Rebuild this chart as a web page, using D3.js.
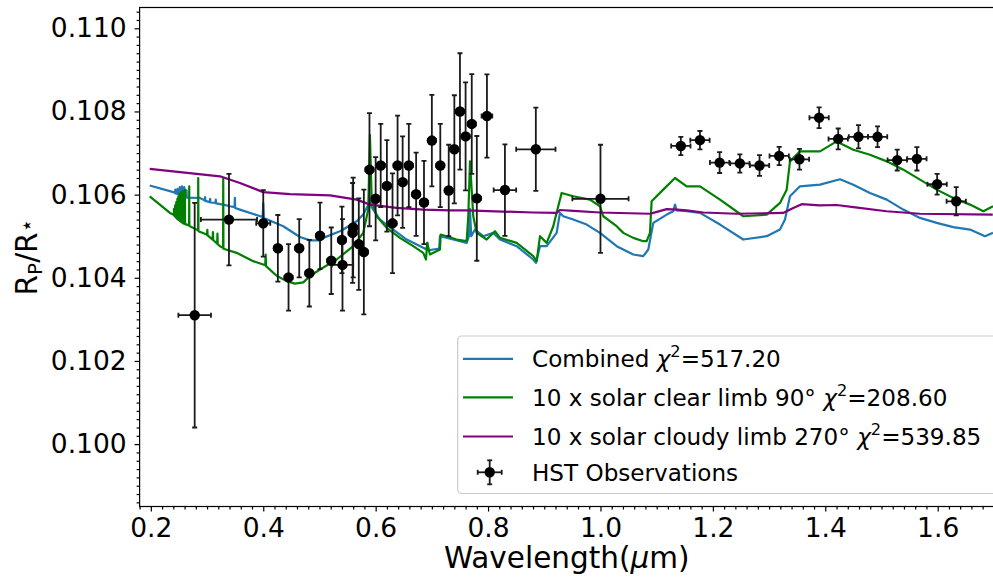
<!DOCTYPE html>
<html>
<head>
<meta charset="utf-8">
<script src="https://cdn.jsdelivr.net/npm/d3@7"></script>
<style>
  body { margin: 0; background: #fff; }
  text { font-family: "DejaVu Sans", sans-serif; fill: #000; }
</style>
</head>
<body>
<svg id="chart" width="993" height="581"></svg>
<script>
// HST transmission spectrum: observed points
const obsWave = [0.278,0.339,0.400,0.426,0.445,0.464,0.482,0.501,0.521,0.540,0.541,0.560,0.559,0.570,0.579,
  0.589,0.600,0.609,0.620,0.630,0.639,0.648,0.659,0.672,0.686,0.700,0.715,0.730,0.740,0.750,0.760,0.771,0.780,
  0.798,0.830,0.885,1.000,
  1.143,1.177,1.212,1.248,1.283,1.318,1.354,1.389,1.423,1.459,1.493,1.528,1.563,1.599,1.633];
const obsRad = [0.10310,0.10540,0.10531,0.10471,0.10401,0.10471,0.10411,0.10501,0.10441,0.10491,0.10431,0.10521,0.10508,0.10481,0.10462,
  0.10660,0.10590,0.10670,0.10621,0.10531,0.10670,0.10630,0.10670,0.10601,0.10581,0.10730,0.10670,0.10610,0.10709,0.10800,0.10740,0.10770,0.10591,
  0.10789,0.10611,0.10709,0.10590,
  0.10717,0.10731,0.10677,0.10675,0.10670,0.10693,0.10685,0.10785,0.10734,0.10739,0.10739,0.10683,0.10686,0.10625,0.10584];
const obsRadErr = [0.0027,0.0011,0.0008,0.0008,0.0008,0.0007,0.0008,0.0008,0.0008,0.0008,0.0011,0.0012,0.0012,0.0011,0.0015,
  0.00136,0.001,0.001,0.0011,0.0012,0.0012,0.0011,0.001,0.001,0.001,0.0011,0.001,0.0011,0.0013,0.0014,0.0013,0.0012,0.0015,
  0.001,0.0011,0.001,0.0013,
  0.00022,0.00022,0.00025,0.00022,0.00025,0.00022,0.00025,0.00025,0.00025,0.00028,0.00025,0.00025,0.00028,0.00025,0.00034];
const obsWaveErr = [0.029,0.05,0.0125,0.007,0.007,0.007,0.007,0.007,0.007,0.007,0.019,0.007,0.007,0.007,0.007,
  0.007,0.007,0.007,0.007,0.007,0.007,0.007,0.007,0.007,0.007,0.007,0.007,0.007,0.007,0.007,0.007,0.007,0.007,
  0.0095,0.02,0.035,0.05,
  0.0172,0.0172,0.0172,0.0172,0.0172,0.0172,0.0172,0.0172,0.0172,0.0172,0.0172,0.0172,0.0172,0.0172,0.0172];

// model spectra [wavelength, Rp/R*]
const combinedModel = [[0.198,0.10622],[0.240,0.10606],
  [0.243,0.10604],[0.2435,0.10612],[0.244,0.10603],[0.247,0.10602],[0.2475,0.10614],[0.248,0.10601],
  [0.251,0.10600],[0.2515,0.10618],[0.252,0.10599],[0.255,0.10598],[0.2555,0.10620],[0.256,0.10597],
  [0.259,0.10596],[0.2595,0.10618],[0.260,0.10595],[0.263,0.10594],[0.2635,0.10610],[0.264,0.10593],
  [0.2874,0.10592],[0.2932,0.10588],[0.296,0.10586],[0.2965,0.10594],[0.297,0.10585],[0.305,0.10582],[0.3055,0.10590],
  [0.306,0.10581],[0.315,0.10580],[0.3155,0.10588],[0.316,0.10579],[0.3288,0.10576],[0.3407,0.10572],[0.349,0.10570],
  [0.3496,0.10592],[0.350,0.10568],[0.3585,0.10564],[0.399,0.10546],[0.400,0.10580],[0.401,0.10544],[0.4356,0.10524],
  [0.4653,0.10498],[0.4831,0.10490],[0.5009,0.10490],[0.5068,0.10496],[0.5365,0.10512],[0.5423,0.10516],[0.5662,0.10536],
  [0.5779,0.10552],[0.5868,0.10575],[0.5898,0.10586],[0.5929,0.10570],[0.6077,0.10540],[0.6313,0.10516],[0.6552,0.10492],
  [0.6847,0.10472],[0.6906,0.10468],[0.6918,0.10484],[0.693,0.10466],[0.7025,0.10468],[0.713,0.10470],[0.7144,0.10500],
  [0.7381,0.10492],[0.7619,0.10484],[0.766,0.10500],[0.7678,0.10566],[0.770,0.10500],[0.7767,0.10516],[0.7914,0.10500],
  [0.8093,0.10508],[0.8212,0.10492],[0.8509,0.10476],[0.8804,0.10444],[0.8852,0.10436],[0.8924,0.10476],[0.9043,0.10476],
  [0.922,0.10508],[0.9279,0.10556],[0.9338,0.10548],[0.9516,0.10540],[0.9754,0.10528],[0.9991,0.10508],[1.0288,0.10476],
  [1.0584,0.10456],[1.0762,0.10452],[1.0851,0.10468],[1.094,0.10532],[1.1178,0.10552],[1.1295,0.10560],[1.1326,0.10576],
  [1.1356,0.10562],[1.1534,0.10560],[1.1771,0.10556],[1.2127,0.10528],[1.2541,0.10492],[1.2957,0.10500],[1.3194,0.10516],
  [1.3283,0.10540],[1.3372,0.10596],[1.355,0.10620],[1.3906,0.10624],[1.4262,0.10637],[1.4498,0.10624],[1.4795,0.10604],
  [1.5093,0.10588],[1.5388,0.10564],[1.5685,0.10544],[1.5982,0.10532],[1.6278,0.10522],[1.6575,0.10516],[1.6842,0.10500],
  [1.6984,0.10508]];

const clearModel = [[0.198,0.10596],[0.234,0.10556],[0.2399,0.10552],
  [0.241,0.10551],[0.2412,0.10566],[0.2414,0.10550],[0.243,0.10548],[0.2432,0.10574],[0.2434,0.10547],
  [0.245,0.10545],[0.2452,0.10582],[0.2454,0.10544],[0.247,0.10542],[0.2472,0.10590],[0.2474,0.10541],
  [0.249,0.10540],[0.2492,0.10596],[0.2494,0.10539],[0.251,0.10538],[0.2512,0.10600],[0.2514,0.10537],
  [0.253,0.10536],[0.2532,0.10604],[0.2534,0.10535],[0.255,0.10534],[0.2552,0.10606],[0.2554,0.10533],
  [0.2568,0.10532],[0.257,0.10608],[0.2572,0.10531],[0.2605,0.10530],[0.2607,0.10612],[0.2609,0.10529],
  [0.2681,0.10526],[0.2683,0.10620],[0.2685,0.10525],[0.2696,0.10524],[0.2841,0.10514],[0.2843,0.10640],[0.2847,0.10512],
  [0.2993,0.10504],[0.300,0.10503],[0.3005,0.10515],[0.301,0.10502],[0.310,0.10492],[0.3105,0.10510],[0.311,0.10491],
  [0.318,0.10482],[0.3185,0.10506],[0.319,0.10481],[0.323,0.10476],[0.3286,0.10472],[0.3288,0.10640],[0.3292,0.10470],
  [0.3527,0.10460],[0.3822,0.10440],[0.400,0.10432],[0.4035,0.10430],[0.4043,0.10456],[0.405,0.10428],[0.4238,0.10405],
  [0.4416,0.10392],[0.4564,0.10386],[0.4712,0.10389],[0.4831,0.10404],[0.5009,0.10420],[0.5306,0.10444],[0.5601,0.10476],
  [0.5779,0.10508],[0.5868,0.10564],[0.5898,0.10744],[0.5929,0.10588],[0.6018,0.10548],[0.6196,0.10520],[0.6432,0.10496],
  [0.6669,0.10476],[0.6847,0.10460],[0.6895,0.10444],[0.6918,0.10484],[0.6966,0.10456],[0.7144,0.10468],[0.7157,0.10504],
  [0.7263,0.10500],[0.7441,0.10492],[0.7619,0.10488],[0.7648,0.10548],[0.7678,0.10680],[0.7737,0.10548],[0.7797,0.10508],
  [0.7975,0.10492],[0.8123,0.10512],[0.8212,0.10496],[0.8509,0.10484],[0.8804,0.10452],[0.8865,0.10440],[0.8924,0.10500],
  [0.9043,0.10484],[0.916,0.10524],[0.9249,0.10572],[0.9309,0.10604],[0.9516,0.10596],[0.9813,0.10588],[0.9991,0.10572],
  [1.005,0.10548],[1.0288,0.10524],[1.0406,0.10508],[1.0584,0.10496],[1.0762,0.10488],[1.0822,0.10488],[1.0881,0.10508],
  [1.091,0.10584],[1.1117,0.10612],[1.1326,0.10640],[1.1534,0.10620],[1.1771,0.10620],[1.2127,0.10588],[1.2541,0.10548],
  [1.2957,0.10552],[1.3194,0.10580],[1.3313,0.10612],[1.3372,0.10680],[1.355,0.10704],[1.3906,0.10704],[1.4203,0.10728],
  [1.4498,0.10708],[1.4795,0.10696],[1.5093,0.10680],[1.5388,0.10660],[1.5685,0.10636],[1.5982,0.10612],[1.6278,0.10592],
  [1.6575,0.10576],[1.6812,0.10560],[1.6984,0.10572]];

const cloudyModel = [[0.198,0.10662],[0.323,0.10644],[0.3585,0.10628],[0.400,0.10606],[0.4475,0.10601],[0.519,0.10598],
  [0.566,0.10588],[0.590,0.10576],[0.637,0.10568],[0.685,0.10564],[0.732,0.10562],[0.762,0.10562],[0.880,0.10557],
  [0.922,0.10556],[0.928,0.10563],[0.952,0.10561],[0.999,0.10557],[1.088,0.10554],[1.094,0.10556],[1.118,0.10565],
  [1.136,0.10564],[1.153,0.10562],[1.183,0.10557],[1.242,0.10554],[1.325,0.10556],[1.343,0.10568],[1.358,0.10577],
  [1.390,0.10574],[1.420,0.10575],[1.450,0.10570],[1.509,0.10560],[1.568,0.10554],[1.698,0.10552]];

const xMajor = [0.2,0.4,0.6,0.8,1.0,1.2,1.4,1.6];
const yMajor = [0.100,0.102,0.104,0.106,0.108,0.110];

const seriesInfo = [
  {name: "Combined", chi: "517.20", color: "#1f77b4", data: combinedModel},
  {name: "10 x solar clear limb 90\u00b0", chi: "208.60", color: "green", data: clearModel},
  {name: "10 x solar cloudy limb 270\u00b0", chi: "539.85", color: "purple", data: cloudyModel}
];

let svg = d3.select("#chart");
let plotL = 139.6, plotR = 993.9, plotT = 7.5, plotB = 506.5;

let x = d3.scaleLinear().domain([0.18, 1.7]).range([plotL, plotR]);
let y = d3.scaleLinear().domain([0.0985, 0.1105]).range([plotB, plotT]);

// minor tick positions
let xMinor = d3.range(0.18, 1.7001, 0.02).filter(v => !xMajor.some(m => Math.abs(m - v) < 1e-6));
let yMinor = d3.range(0.0986, 0.1105, 0.0002).filter(v => !yMajor.some(m => Math.abs(m - v) < 1e-7));

svg.append("defs").append("clipPath").attr("id", "clip")
  .append("rect").attr("x", plotL).attr("y", plotT)
  .attr("width", plotR - plotL).attr("height", plotB - plotT);

// axes
let gx = svg.append("g").attr("transform", `translate(0,${plotB})`)
  .call(d3.axisBottom(x).tickValues(xMajor).tickFormat(d3.format(".1f"))
    .tickSize(5).tickPadding(6.4).tickSizeOuter(0));
svg.append("g").attr("transform", `translate(0,${plotB})`)
  .call(d3.axisBottom(x).tickValues(xMinor).tickFormat("").tickSize(3).tickSizeOuter(0));

let gy = svg.append("g").attr("transform", `translate(${plotL},0)`)
  .call(d3.axisLeft(y).tickValues(yMajor).tickFormat(d3.format(".3f"))
    .tickSize(5).tickPadding(7.9).tickSizeOuter(0));
svg.append("g").attr("transform", `translate(${plotL},0)`)
  .call(d3.axisLeft(y).tickValues(yMinor).tickFormat("").tickSize(3).tickSizeOuter(0));

svg.selectAll(".tick line").attr("stroke", "#000").attr("stroke-width", 1.2);
svg.selectAll(".domain").remove();
gx.selectAll("text").attr("font-size", "26.5px").attr("font-family", "DejaVu Sans");
gy.selectAll("text").attr("font-size", "26.5px").attr("font-family", "DejaVu Sans");

// model lines
let line = d3.line().x(d => x(d[0])).y(d => y(d[1]));
let plot = svg.append("g").attr("clip-path", "url(#clip)");
seriesInfo.forEach(s => {
  plot.append("path").datum(s.data)
    .attr("d", line)
    .attr("fill", "none")
    .attr("stroke", s.color)
    .attr("stroke-width", 2.2)
    .attr("stroke-linejoin", "round");
});

// error bars
let obs = obsWave.map((w, i) => ({w: w, r: obsRad[i], er: obsRadErr[i], ew: obsWaveErr[i]}));
let eb = plot.append("g").attr("stroke", "#1a1a1a").attr("stroke-width", 1.8);
let cap = 2.5;
obs.forEach(d => {
  let cx = x(d.w), cy = y(d.r);
  let y0 = y(d.r - d.er), y1 = y(d.r + d.er);
  let x0 = x(d.w - d.ew), x1 = x(d.w + d.ew);
  eb.append("line").attr("x1", cx).attr("x2", cx).attr("y1", y0).attr("y2", y1);
  eb.append("line").attr("x1", x0).attr("x2", x1).attr("y1", cy).attr("y2", cy);
  eb.append("line").attr("x1", cx - cap).attr("x2", cx + cap).attr("y1", y0).attr("y2", y0);
  eb.append("line").attr("x1", cx - cap).attr("x2", cx + cap).attr("y1", y1).attr("y2", y1);
  eb.append("line").attr("x1", x0).attr("x2", x0).attr("y1", cy - cap).attr("y2", cy + cap);
  eb.append("line").attr("x1", x1).attr("x2", x1).attr("y1", cy - cap).attr("y2", cy + cap);
});
plot.selectAll("circle.obs").data(obs).enter().append("circle")
  .attr("class", "obs")
  .attr("cx", d => x(d.w)).attr("cy", d => y(d.r)).attr("r", 5.2)
  .attr("fill", "#000");

// spines
svg.append("rect").attr("x", plotL).attr("y", plotT)
  .attr("width", plotR - plotL).attr("height", plotB - plotT)
  .attr("fill", "none").attr("stroke", "#000").attr("stroke-width", 1.2);

// axis labels
let xlab = svg.append("text").attr("x", (plotL + plotR) / 2).attr("y", 568)
  .attr("text-anchor", "middle").attr("font-size", "29.5px");
xlab.append("tspan").text("Wavelength(");
xlab.append("tspan").attr("font-style", "italic").text("\u03bc");
xlab.append("tspan").text("m)");

let ylab = svg.append("text")
  .attr("transform", `translate(37,${(plotT + plotB) / 2}) rotate(-90)`)
  .attr("text-anchor", "middle").attr("font-size", "29.5px");
ylab.append("tspan").text("R");
ylab.append("tspan").attr("font-size", "20px").attr("dy", 5).text("P");
ylab.append("tspan").attr("dy", -5).text("/R");
ylab.append("tspan").attr("font-size", "22px").attr("dy", -3).text("\u22c6");

// legend
let lg = svg.append("g");
lg.append("rect").attr("x", 457.7).attr("y", 336).attr("width", 560).attr("height", 157.5)
  .attr("rx", 4).attr("fill", "#fff").attr("fill-opacity", 0.8)
  .attr("stroke", "#cccccc").attr("stroke-width", 1.2);
let rowY = [358.8, 397.3, 436.5, 472.3];
seriesInfo.forEach((s, i) => {
  lg.append("line").attr("x1", 463).attr("x2", 513).attr("y1", rowY[i]).attr("y2", rowY[i])
    .attr("stroke", s.color).attr("stroke-width", 2.2);
  let t = lg.append("text").attr("x", 532).attr("y", rowY[i] + 8.3).attr("font-size", "23.1px");
  t.append("tspan").text(s.name + " ");
  t.append("tspan").attr("font-style", "italic").text("\u03c7");
  t.append("tspan").attr("font-size", "16.2px").attr("dy", -10).text("2");
  t.append("tspan").attr("dy", 10).text("=" + s.chi);
});
let ly = rowY[3], lx = 489.7;
let lge = lg.append("g").attr("stroke", "#1a1a1a").attr("stroke-width", 1.8);
lge.append("line").attr("x1", lx).attr("x2", lx).attr("y1", ly - 12).attr("y2", ly + 12);
lge.append("line").attr("x1", lx - 12).attr("x2", lx + 12).attr("y1", ly).attr("y2", ly);
lge.append("line").attr("x1", lx - cap).attr("x2", lx + cap).attr("y1", ly - 12).attr("y2", ly - 12);
lge.append("line").attr("x1", lx - cap).attr("x2", lx + cap).attr("y1", ly + 12).attr("y2", ly + 12);
lge.append("line").attr("x1", lx - 12).attr("x2", lx - 12).attr("y1", ly - cap).attr("y2", ly + cap);
lge.append("line").attr("x1", lx + 12).attr("x2", lx + 12).attr("y1", ly - cap).attr("y2", ly + cap);
lg.append("circle").attr("cx", lx).attr("cy", ly).attr("r", 5.2).attr("fill", "#000");
lg.append("text").attr("x", 532).attr("y", ly + 8.3).attr("font-size", "23.1px").text("HST Observations");
</script>
</body>
</html>
